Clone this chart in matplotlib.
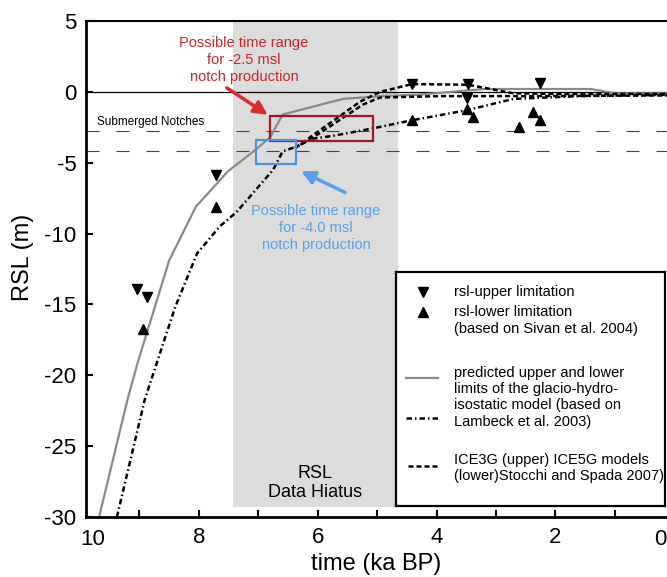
import matplotlib
matplotlib.use("Agg")
import matplotlib.pyplot as plt
from matplotlib.lines import Line2D

plt.rcParams['font.family'] = ['Liberation Sans', 'DejaVu Sans']
plt.rcParams['axes.unicode_minus'] = False

# glacio-hydro-isostatic model, upper limit (grey) and lower limit (dash-dot)
gray_x = [9.68, 9.2, 9.03, 8.5, 8.05, 7.51, 7.05, 6.8, 6.59, 5.58, 4.95, 4.3, 3.2, 1.4, 1.0, 0.0]
gray_y = [-30, -21.7, -19.1, -11.9, -8.1, -5.6, -4.1, -3.2, -1.6, -0.5, -0.3, -0.2, 0.2, 0.2, -0.1, -0.1]
lambeck_x = [9.38, 8.91, 8.4, 8.03, 7.65, 7.37, 6.75, 6.59, 6.38, 6.08, 5.74, 5.1, 4.41, 3.49, 2.71, 1.59, 0.0]
lambeck_y = [-30, -21.7, -15.2, -11.4, -9.5, -8.5, -5.5, -4.2, -3.9, -3.3, -3.1, -2.6, -2.0, -1.3, -0.5, -0.3, -0.2]

# ICE3G (upper) and ICE5G (lower) models
ice3g_x = [6.38, 5.96, 5.29, 4.95, 4.41, 3.47, 2.71, 2.0, 0.0]
ice3g_y = [-3.95, -2.7, -0.7, 0.0, 0.55, 0.5, -0.1, -0.15, -0.15]
ice5g_x = [6.38, 5.96, 5.24, 4.95, 3.94, 2.5, 0.0]
ice5g_y = [-3.95, -2.9, -0.9, -0.4, -0.3, -0.3, -0.25]

# rsl limitations (Sivan et al. 2004)
upper_x = [9.04, 8.88, 7.71, 4.41, 3.47, 3.49, 2.26]
upper_y = [-13.9, -14.5, -5.9, 0.56, 0.56, -0.4, 0.65]
lower_x = [8.94, 7.71, 4.41, 3.49, 3.39, 2.61, 2.38, 2.26]
lower_y = [-16.7, -8.1, -2.0, -1.2, -1.8, -2.5, -1.4, -2.0]

# submerged notches levels and hiatus
notch_levels = [-2.75, -4.15]
hiatus_start, hiatus_end, hiatus_bottom = 7.43, 4.65, -29.3

# time ranges for notch production (x0, x1, y0, y1)
red_box = (6.8, 5.07, -3.46, -1.7)
blue_box = (7.04, 6.37, -5.08, -3.39)

fig = plt.figure(figsize=(6.67, 5.77), dpi=100)
ax = fig.add_axes([86 / 667, 1 - 517 / 577, 581 / 667, 496 / 577])

ax.fill_betweenx([hiatus_bottom, 5], hiatus_end, hiatus_start, color='#dcdcdc', lw=0, zorder=0)
ax.axhline(0, color='black', lw=0.9, zorder=1)
for lev in notch_levels:
    ax.axhline(lev, color='#444444', lw=0.8, dashes=(11.7, 15.3), zorder=1)

ax.plot(gray_x, gray_y, color='#8a8a8a', lw=1.6, zorder=2)
ax.plot(lambeck_x, lambeck_y, color='black', lw=1.8, dashes=(2.2, 1.2, 0.6, 1.2), zorder=3)
ax.plot(ice3g_x, ice3g_y, color='black', lw=1.8, dashes=(2.0, 1.2), zorder=3)
ax.plot(ice5g_x, ice5g_y, color='black', lw=1.8, dashes=(2.0, 1.2), zorder=3)
ax.plot(upper_x, upper_y, 'v', color='black', ms=7.5, ls='none', zorder=4)
ax.plot(lower_x, lower_y, '^', color='black', ms=7.5, ls='none', zorder=4)

# boxes
ax.add_patch(plt.Rectangle((red_box[1], red_box[2]), red_box[0] - red_box[1], red_box[3] - red_box[2],
                           fill=False, ec='#9b1c22', lw=1.6, zorder=5))
ax.add_patch(plt.Rectangle((blue_box[1], blue_box[2]), blue_box[0] - blue_box[1], blue_box[3] - blue_box[2],
                           fill=False, ec='#4d94e0', lw=1.6, zorder=5))

# annotations
ax.text(7.24, 2.26, "Possible time range\nfor -2.5 msl\nnotch production", color='#c62828',
        fontsize=10.5, ha='center', va='center', linespacing=1.25)
ax.annotate("", xy=(6.84, -1.62), xytext=(7.53, 0.28),
            arrowprops=dict(arrowstyle='-|>', color='#d32f2f', lw=2.5, mutation_scale=20, shrinkA=0, shrinkB=0))
ax.text(6.03, -9.6, "Possible time range\nfor -4.0 msl\nnotch production", color='#5aa0e6',
        fontsize=10.5, ha='center', va='center', linespacing=1.25)
ax.annotate("", xy=(6.28, -5.6), xytext=(5.54, -7.1),
            arrowprops=dict(arrowstyle='-|>', color='#5b9ee8', lw=2.5, mutation_scale=20, shrinkA=0, shrinkB=0))
ax.text(9.72, -2.1, "Submerged Notches", fontsize=8.5, ha='left', va='center')
ax.text(6.05, -27.6, "RSL\nData Hiatus", fontsize=13, ha='center', va='center', linespacing=1.15)

# axes
ax.set_xlim(9.90, 0.121)
ax.set_ylim(-30, 5)
ax.set_xticks([9, 8, 7, 6, 5, 4, 3, 2, 1])
ax.set_xticklabels(['', '8', '', '6', '', '4', '', '2', ''])
ax.set_yticks([5, 0, -5, -10, -15, -20, -25, -30])
ax.tick_params(direction='in', length=5, width=1.5, labelsize=16, pad=7)
for s in ['left', 'bottom']:
    ax.spines[s].set_linewidth(2.0)
ax.spines['top'].set_linewidth(1.5)
ax.spines['right'].set_visible(False)
ax.annotate('10', xy=(0.012, 0), xycoords='axes fraction', xytext=(0, -8.5), textcoords='offset points',
            ha='center', va='top', fontsize=16)
ax.annotate('0', xy=(0.988, 0), xycoords='axes fraction', xytext=(0, -8.5), textcoords='offset points',
            ha='center', va='top', fontsize=16)
ax.set_xlabel("time (ka BP)", fontsize=17)
ax.xaxis.set_label_coords(0.5, -0.072)
ax.set_ylabel("RSL (m)", fontsize=17)
ax.yaxis.set_label_coords(-0.09, 0.524)

# legend box
lg = fig.add_axes([396 / 667, 1 - 506 / 577, 269 / 667, 234 / 577])
lg.set_xlim(0, 269)
lg.set_ylim(234, 0)
lg.set_xticks([])
lg.set_yticks([])
for s in lg.spines.values():
    s.set_linewidth(1.6)
fs = 10.5
lg.plot([27], [20], 'v', color='black', ms=7.5)
lg.plot([27], [40], '^', color='black', ms=7.5)
lg.text(58, 20, "rsl-upper limitation", fontsize=fs, va='center')
lg.text(58, 40, "rsl-lower limitation", fontsize=fs, va='center')
lg.text(58, 57, "(based on Sivan et al. 2004)", fontsize=fs, va='center')
lg.add_line(Line2D([10, 42], [106, 106], color='#8a8a8a', lw=1.6))
lg.text(58, 101, "predicted upper and lower", fontsize=fs, va='center')
lg.text(58, 117, "limits of the glacio-hydro-", fontsize=fs, va='center')
lg.text(58, 133, "isostatic model (based on", fontsize=fs, va='center')
lg.add_line(Line2D([10, 44], [146, 146], color='black', lw=1.8, dashes=(2.2, 1.2, 0.6, 1.2)))
lg.text(58, 150, "Lambeck et al. 2003)", fontsize=fs, va='center')
lg.add_line(Line2D([12, 44], [194, 194], color='black', lw=1.8, dashes=(2.0, 1.2)))
lg.text(58, 188, "ICE3G (upper) ICE5G models", fontsize=fs, va='center')
lg.text(58, 204, "(lower)Stocchi and Spada 2007)", fontsize=fs, va='center')

fig.savefig("out.png", dpi=100)
